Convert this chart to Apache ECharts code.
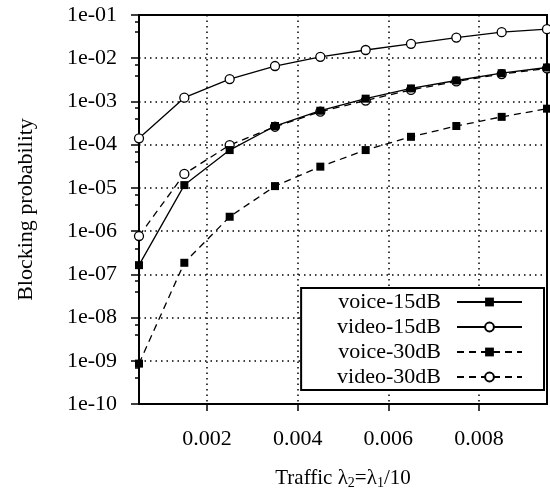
<!DOCTYPE html>
<html>
<head>
<meta charset="utf-8">
<script src="https://cdn.jsdelivr.net/npm/echarts@6/dist/echarts.min.js"></script>
<style>html,body{margin:0;padding:0;background:#fff}#c{width:550px;height:498px}</style>
</head>
<body>
<div id="c"></div>
<script>
var traffic = [0.0005, 0.0015, 0.0025, 0.0035, 0.0045, 0.0055, 0.0065, 0.0075, 0.0085, 0.0095];
var voice15 = [1.63e-7, 1.16e-5, 7.5e-5, 2.7e-4, 6.1e-4, 1.16e-3, 2.0e-3, 3.05e-3, 4.5e-3, 6.1e-3];
var video15 = [1.4e-4, 1.22e-3, 3.3e-3, 6.6e-3, 1.08e-2, 1.55e-2, 2.15e-2, 3.0e-2, 4.0e-2, 4.7e-2];
var voice30 = [8.6e-10, 1.85e-7, 2.15e-6, 1.1e-5, 3.1e-5, 7.5e-5, 1.52e-4, 2.7e-4, 4.4e-4, 6.8e-4];
var video30 = [7.7e-7, 2.1e-5, 9.8e-5, 2.6e-4, 5.8e-4, 1.05e-3, 1.85e-3, 2.9e-3, 4.3e-3, 5.8e-3];
var xTicks = [0.002, 0.004, 0.006, 0.008];
var names = ['voice-15dB', 'video-15dB', 'voice-30dB', 'video-30dB'];

function pairs(ys) { return traffic.map(function (x, i) { return [x, ys[i]]; }); }
var FONT = 'Liberation Serif';
var dash = [7, 5];

function mk(name, ys, filled, dashed, z) {
  return {
    name: name, type: 'line', data: pairs(ys), z: z,
    symbol: filled ? 'rect' : 'circle',
    symbolSize: filled ? 8 : 9,
    lineStyle: { color: '#000', width: 1.3, type: dashed ? dash : 'solid' },
    itemStyle: filled ? { color: '#000', borderColor: '#000', borderWidth: 0 }
                      : { color: '#fff', borderColor: '#000', borderWidth: 1.3 },
    emphasis: { disabled: true },
    animation: false
  };
}

var chart = echarts.init(document.getElementById('c'), null, { renderer: 'canvas' });
chart.setOption({
  animation: false,
  grid: { left: 139, right: 3, top: 15, bottom: 94, show: true, borderColor: '#000', borderWidth: 2, backgroundColor: 'transparent' },
  legend: {
    data: names,
    orient: 'vertical', right: 6, top: 288, align: 'right',
    itemWidth: 65, itemHeight: 11, itemGap: 3,
    padding: [3, 21, 2, 36],
    backgroundColor: '#fff', borderColor: '#000', borderWidth: 2,
    textStyle: { fontFamily: FONT, fontSize: 22, color: '#000', lineHeight: 21, padding: [0, 11, 0, 0] },
    selectedMode: false
  },
  xAxis: {
    type: 'value', min: traffic[0], max: traffic[traffic.length - 1],
    name: '{a|Traffic λ}{s|2}{a|=λ}{s|1}{a|/10}', nameLocation: 'middle', nameGap: 62,
    nameTextStyle: { rich: {
      a: { fontFamily: FONT, fontSize: 21, color: '#000', lineHeight: 24 },
      s: { fontFamily: FONT, fontSize: 14, color: '#000', lineHeight: 24, verticalAlign: 'bottom', padding: [12, 0, 0, 0] }
    } },
    axisLine: { show: true, lineStyle: { color: '#000', width: 2 } },
    axisTick: { show: true, length: 7, customValues: xTicks, lineStyle: { color: '#000', width: 1.5 } },
    axisLabel: { customValues: xTicks, margin: 24, fontFamily: FONT, fontSize: 22, color: '#000',
      formatter: function (v) { return v.toFixed(3); } },
    splitLine: { show: true, lineStyle: { color: '#000', width: 1.5, type: [1.5, 4] } }
  },
  yAxis: {
    type: 'log', logBase: 10, min: 1e-10, max: 1e-1,
    name: 'Blocking probability', nameLocation: 'middle', nameGap: 102,
    nameTextStyle: { fontFamily: FONT, fontSize: 22, color: '#000' },
    axisLine: { show: true, lineStyle: { color: '#000', width: 2 } },
    axisTick: { show: true, length: 8, lineStyle: { color: '#000', width: 1.5 } },
    minorTick: { show: true, splitNumber: 3, length: 4, lineStyle: { color: '#000', width: 1.5 } },
    axisLabel: { margin: 22, fontFamily: FONT, fontSize: 22, color: '#000',
      formatter: function (v) { var e = Math.round(Math.log10(v)); return '1e-' + String(-e).padStart(2, '0'); } },
    splitLine: { show: true, lineStyle: { color: '#000', width: 1.5, type: [1.5, 4] } }
  },
  series: [
    mk('video-15dB', video15, false, false, 2),
    mk('video-30dB', video30, false, true, 3),
    mk('voice-30dB', voice30, true, true, 4),
    mk('voice-15dB', voice15, true, false, 5)
  ]
});
</script>
</body>
</html>
